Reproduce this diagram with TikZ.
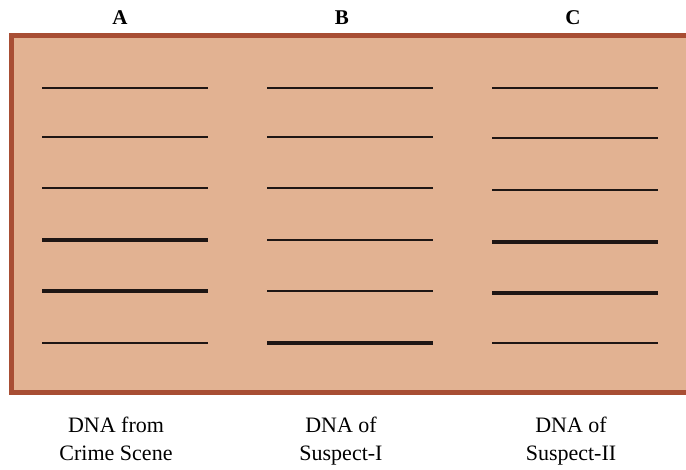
\documentclass[tikz,border=0pt]{standalone}
\usepackage{fontspec}
\setmainfont{Liberation Serif}
\definecolor{gel}{RGB}{226,178,146}
\definecolor{gelborder}{RGB}{168,78,52}
\definecolor{band}{RGB}{30,22,20}
\tikzset{
  thinband/.style={draw=band, line width=2pt},
  thickband/.style={draw=band, line width=4.5pt},
  lanehead/.style={font=\bfseries\fontsize{21}{24}\selectfont, anchor=base, inner sep=0pt},
  lanelabel/.style={font=\fontsize{22}{28}\selectfont, align=center, anchor=north, inner sep=0pt}
}
\begin{document}
\begin{tikzpicture}[x=1pt,y=-1pt]
\useasboundingbox (0,0) rectangle (686,470);
\begin{scope}
\clip (0,0) rectangle (686,470);
\draw[gelborder, fill=gel, line width=5pt] (11,36) rectangle (700,393);
\end{scope}
% lane headers
\node[lanehead] (hA) at (120,25) {A};
\node[lanehead] (hB) at (342,25) {B};
\node[lanehead] (hC) at (573,25) {C};
% bands: lane A
\foreach \y in {88,137,188,343} \draw[thinband] (42,\y) -- (208,\y);
\foreach \y in {240,291} \draw[thickband] (42,\y) -- (208,\y);
% lane B
\foreach \y in {88,137,188,240,291} \draw[thinband] (267,\y) -- (433,\y);
\draw[thickband] (267,343) -- (433,343);
% lane C
\foreach \y in {88,138,190,343} \draw[thinband] (492,\y) -- (658,\y);
\foreach \y in {242,293} \draw[thickband] (492,\y) -- (658,\y);
% lane labels
\node[lanelabel] (lA) at (116,417) {DNA from\\Crime Scene};
\node[lanelabel] (lB) at (341,417) {DNA of\\Suspect-I};
\node[lanelabel] (lC) at (571,417) {DNA of\\Suspect-II};
\end{tikzpicture}
\end{document}
